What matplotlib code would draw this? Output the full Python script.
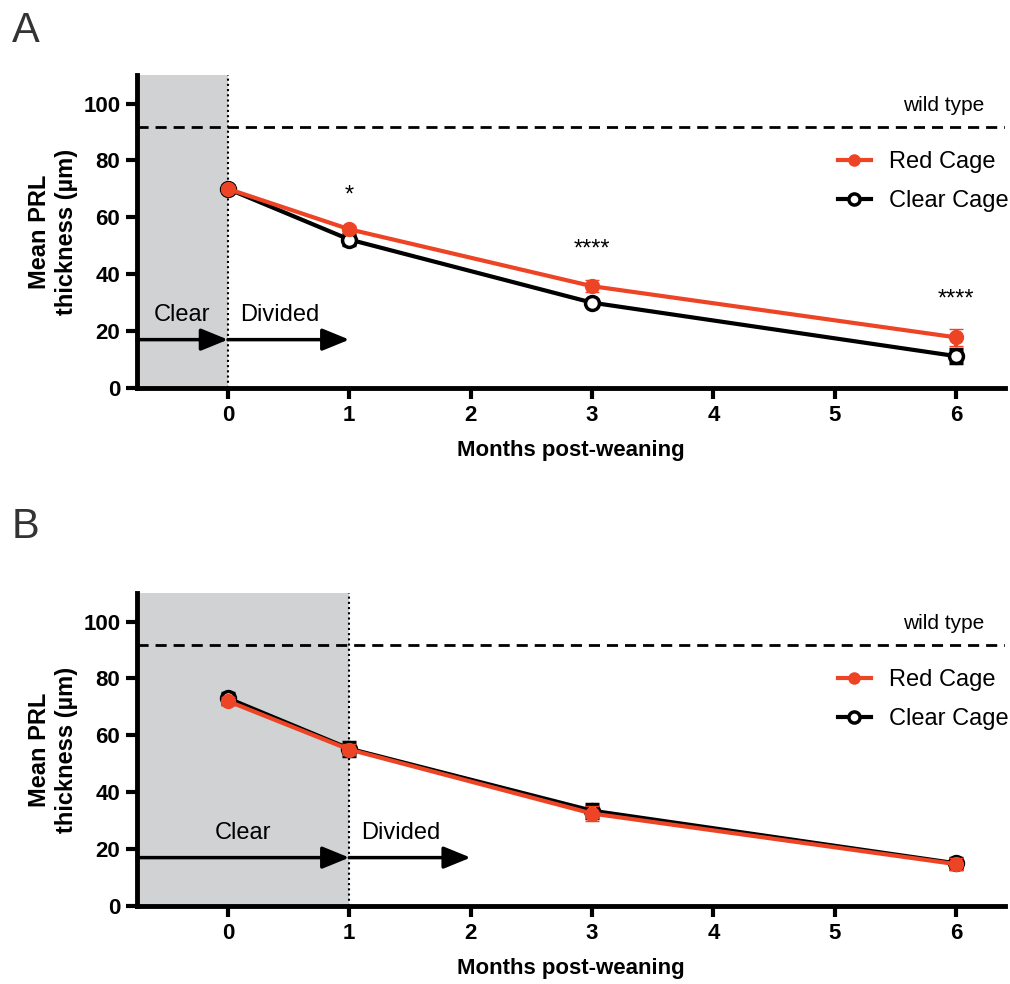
import matplotlib
matplotlib.use("Agg")
import matplotlib.pyplot as plt
from matplotlib.lines import Line2D

plt.rcParams['font.family'] = ['Liberation Sans', 'DejaVu Sans']

# data
months = [0, 1, 3, 6]
xticks = [0, 1, 2, 3, 4, 5, 6]
yticks = [0, 20, 40, 60, 80, 100]

a_red = [70, 55.8, 35.8, 17.8]
a_red_err = [1.0, 1.2, 2.0, 3.0]
a_clear = [70, 52.2, 30.0, 11.2]
a_clear_err = [1.0, 2.0, 1.0, 2.5]
a_stars = ["*", "****", "****"]
a_star_x = [1, 3, 6]
a_star_y = [67.5, 48.5, 31]

b_red = [72, 55, 32.5, 14.7]
b_red_err = [1.5, 2.0, 2.5, 2.0]
b_clear = [73, 55.3, 33.5, 15.0]
b_clear_err = [2.0, 2.5, 2.5, 2.0]

wild_type = 91.6
red = "#EE4426"
shade = "#D1D2D4"

fig = plt.figure(figsize=(10.1, 9.84), dpi=100)
axA = fig.add_axes([0.1356, 0.6057, 0.859, 0.318])
axB = fig.add_axes([0.1356, 0.0793, 0.859, 0.318])


def draw_panel(ax, red_y, red_e, clear_y, clear_e, switch):
    ax.axvspan(-0.75, switch, color=shade, lw=0, zorder=0)
    ax.axvline(switch, color="black", ls=(0, (1, 1.5)), lw=1.5, zorder=1)
    ax.axhline(wild_type, color="black", ls=(0, (4, 2.5)), lw=2, zorder=1)
    ax.text(5.9, 99.3, "wild type", ha="center", va="center", fontsize=15)

    ax.errorbar(months, clear_y, yerr=clear_e, color="black", lw=3,
                marker="o", ms=10, mfc="white", mec="black", mew=2.5,
                capsize=5, capthick=3, elinewidth=3, zorder=3)
    ax.errorbar(months, red_y, yerr=red_e, color=red, lw=3,
                marker="o", ms=10, mfc=red, mec=red, mew=1,
                capsize=5, capthick=3, elinewidth=3, zorder=4)

    arrow = dict(arrowstyle="-|>,head_length=1.1,head_width=0.45", lw=2.5,
                 color="black", shrinkA=0, shrinkB=0, mutation_scale=15)
    ax.annotate("", xy=(switch, 17), xytext=(-0.75, 17), arrowprops=arrow,
                zorder=5)
    ax.annotate("", xy=(switch + 1, 17), xytext=(switch, 17),
                arrowprops=arrow, zorder=5)
    ax.text((switch - 0.75) / 2, 25.5, "Clear", ha="center", va="center",
            fontsize=17)
    ax.text(switch + 0.1, 25.5, "Divided", ha="left", va="center",
            fontsize=17)

    ax.set_xlim(-0.75, 6.4)
    ax.set_ylim(0, 110)
    ax.set_xticks(xticks)
    ax.set_yticks(yticks)
    for s in ["top", "right"]:
        ax.spines[s].set_visible(False)
    for s in ["left", "bottom"]:
        ax.spines[s].set_linewidth(3.5)
    ax.tick_params(width=3, length=8, labelsize=16, pad=4)
    for t in ax.get_xticklabels() + ax.get_yticklabels():
        t.set_fontweight("bold")
    ax.set_xlabel("Months post-weaning", fontsize=16, fontweight="bold",
                  labelpad=10)
    ax.set_ylabel("Mean PRL\nthickness (µm)", fontsize=17, fontweight="bold",
                  labelpad=4, linespacing=1.2)

    handles = [
        Line2D([], [], color=red, lw=3, marker="o", ms=8, mfc=red, mec=red),
        Line2D([], [], color="black", lw=3, marker="o", ms=8, mfc="white",
               mec="black", mew=2.5),
    ]
    ax.legend(handles, ["Red Cage", "Clear Cage"], loc="upper left",
              bbox_to_anchor=(0.808, 0.757), frameon=False, fontsize=17,
              borderpad=0, borderaxespad=0, handlelength=1.4,
              handletextpad=0.75, labelspacing=0.72)


draw_panel(axA, a_red, a_red_err, a_clear, a_clear_err, 0)
for s, x, y in zip(a_stars, a_star_x, a_star_y):
    axA.text(x, y, s, ha="center", va="center", fontsize=17)

draw_panel(axB, b_red, b_red_err, b_clear, b_clear_err, 1)

fig.text(0.012, 0.968, "A", fontsize=30, color="#333333", va="center")
fig.text(0.012, 0.4644, "B", fontsize=30, color="#333333", va="center")

fig.savefig("out.png", dpi=100)
